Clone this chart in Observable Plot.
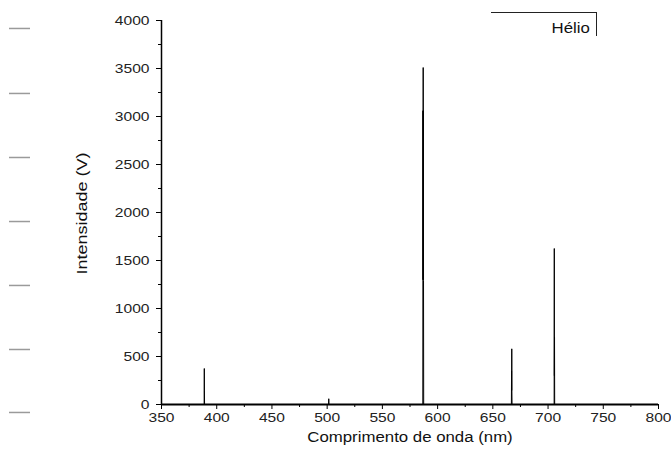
<!DOCTYPE html>
<html>
<head>
<meta charset="utf-8">
<script src="https://cdn.jsdelivr.net/npm/d3@7"></script>
<script src="https://cdn.jsdelivr.net/npm/@observablehq/plot@0.6"></script>
<style>
  html, body { margin: 0; padding: 0; background: #fff; }
  #wrap { position: relative; width: 671px; height: 463px; font-family: "Liberation Sans", Arial, sans-serif; }
  #legend {
    position: absolute; left: 491px; top: 12px; width: 106px; height: 24px;
    border-top: 1px solid #222; border-right: 1px solid #222; box-sizing: border-box;
  }
  #legend span {
    position: absolute; right: 6px; top: 8px; font-size: 14px; line-height: 15px; color: #111;
    transform: scaleX(1.2); transform-origin: right center; white-space: nowrap;
  }
</style>
</head>
<body>
<div id="wrap"><div id="legend"><span>Hélio</span></div></div>
<script>
// Helium emission spectrum: wavelength (nm) and detector intensity (V)
const wavelength = [350, 388.6, 388.75, 388.85, 389.0, 501.3, 501.45, 501.6,
  586.6, 586.75, 586.85, 586.95, 587.05, 587.15, 587.25, 587.4,
  666.8, 666.95, 667.05, 667.15, 667.25, 667.4,
  705.5, 705.65, 705.75, 705.85, 706.0, 800];
const intensity = [0, 0, 375, 150, 0, 0, 60, 0,
  0, 3060, 1300, 3510, 1300, 3060, 1290, 0,
  0, 350, 145, 580, 145, 0,
  0, 1625, 300, 700, 0, 0];

const xTicks = [350, 400, 450, 500, 550, 600, 650, 700, 750, 800];
const xMinor = [375, 425, 475, 525, 575, 625, 675, 725, 775];
const yTicks = [0, 500, 1000, 1500, 2000, 2500, 3000, 3500, 4000];
const yMinor = [250, 750, 1250, 1750, 2250, 2750, 3250, 3750];
// faint guide marks along the left edge
const edgeMarks = [3917, 3240, 2573, 1906, 1240, 573, -83];

const spectrum = wavelength.map((w, i) => ({w, v: intensity[i]}));
const fmt = d3.format("d");

const chart = Plot.plot({
  width: 671,
  height: 463,
  marginLeft: 161,
  marginRight: 13,
  marginTop: 20,
  marginBottom: 59,
  style: {fontFamily: "'Liberation Sans', Arial, sans-serif", fontSize: "13px", color: "#222", background: "#fff"},
  x: {domain: [350, 800], label: null},
  y: {domain: [0, 4000], label: null},
  marks: [
    Plot.axisY({ticks: edgeMarks, tickSize: 21, dx: -131, text: null, label: null, stroke: "#9a9a9a", strokeWidth: 1.5}),
    Plot.line(spectrum, {x: "w", y: "v", stroke: "#000", strokeWidth: 1}),
    Plot.ruleY([0], {stroke: "#000", strokeWidth: 2.2}),
    Plot.ruleX([350], {stroke: "#000", strokeWidth: 1.5}),
    Plot.axisX({ticks: xTicks, tickFormat: fmt, tickSize: 5, tickPadding: 3, stroke: "#000", fill: "#222", label: null, fontSize: 13}),
    Plot.axisX({ticks: xMinor, tickSize: 3, text: null, label: null, stroke: "#000"}),
    Plot.axisY({ticks: yTicks, tickFormat: fmt, tickSize: 5, tickPadding: 7, stroke: "#000", fill: "#222", label: null, fontSize: 13}),
    Plot.axisY({ticks: yMinor, tickSize: 3, text: null, label: null, stroke: "#000"}),
    Plot.text(["Comprimento de onda (nm)"], {frameAnchor: "bottom", dy: 37, fontSize: 14, fill: "#111"}),
    Plot.text(["Intensidade (V)"], {frameAnchor: "bottom-left", dx: -75, dy: -130, rotate: -90, textAnchor: "start", fontSize: 15, fill: "#111"})
  ]
});
document.getElementById("wrap").prepend(chart);

// the lettering of this figure is set slightly wide: stretch each label along its baseline
d3.select(chart).selectAll("text").each(function () {
  const len = this.getComputedTextLength();
  if (len > 0) {
    this.setAttribute("textLength", (len * 1.2).toFixed(1));
    this.setAttribute("lengthAdjust", "spacingAndGlyphs");
  }
});
</script>
</body>
</html>
